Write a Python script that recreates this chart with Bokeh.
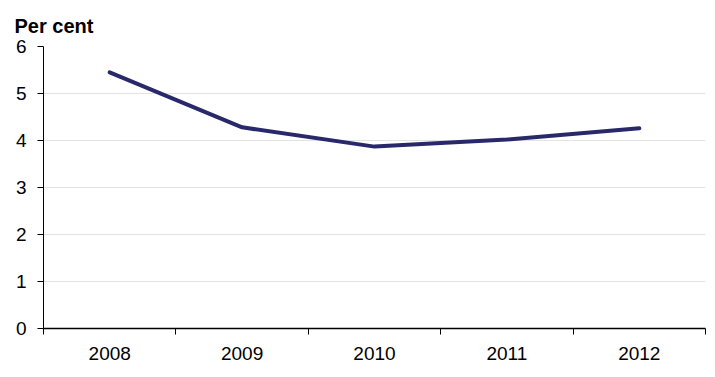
from bokeh.plotting import figure
from bokeh.models import FixedTicker, Range1d, ColumnDataSource
from bokeh.embed import file_html
from bokeh.resources import INLINE

years = ["2008", "2009", "2010", "2011", "2012"]
values = [5.45, 4.28, 3.87, 4.02, 4.26]
y_ticks = [0, 1, 2, 3, 4, 5, 6]

xpos = list(range(1, len(years) + 1))
src = ColumnDataSource(data=dict(x=xpos, y=values))

FONT = "Liberation Sans"

p = figure(width=715, height=377, output_backend="svg", toolbar_location=None,
           x_range=Range1d(0.5, len(years) + 0.5), y_range=Range1d(0, 6),
           min_border_left=43, min_border_right=10, min_border_top=46, min_border_bottom=49)
p.outline_line_color = None
p.background_fill_color = "white"
p.border_fill_color = "white"

p.title.text = "Per cent"
p.title.align = "left"
p.title.offset = -29
p.title.standoff = 20
p.title.text_font = FONT
p.title.text_font_size = "20px"
p.title.text_font_style = "bold"
p.title.text_color = "black"

p.line("x", "y", source=src, line_color="#28286a", line_width=4, line_join="round", line_cap="round")

xa = p.xaxis[0]
xa.ticker = FixedTicker(ticks=xpos, minor_ticks=[i + 0.5 for i in range(len(years) + 1)])
xa.major_label_overrides = {i + 1: y for i, y in enumerate(years)}
xa.major_tick_out = 0
xa.major_tick_in = 0
xa.minor_tick_out = 6
xa.minor_tick_in = 0
xa.minor_tick_line_color = "black"
xa.axis_line_color = "black"
xa.axis_line_width = 1.5
xa.major_label_text_font = FONT
xa.major_label_text_font_size = "19px"
xa.major_label_text_color = "black"
xa.major_label_standoff = 12

ya = p.yaxis[0]
ya.ticker = FixedTicker(ticks=y_ticks)
ya.major_tick_out = 6
ya.major_tick_in = 0
ya.minor_tick_line_color = None
ya.axis_line_color = "black"
ya.major_tick_line_color = "black"
ya.major_label_text_font = FONT
ya.major_label_text_font_size = "19px"
ya.major_label_text_color = "black"
ya.major_label_standoff = 11

p.xgrid.grid_line_color = None
p.ygrid.ticker = FixedTicker(ticks=y_ticks)
p.ygrid.grid_line_color = "#e3e3e3"
p.ygrid.grid_line_width = 1

open("out.html", "w").write(file_html(p, INLINE))
